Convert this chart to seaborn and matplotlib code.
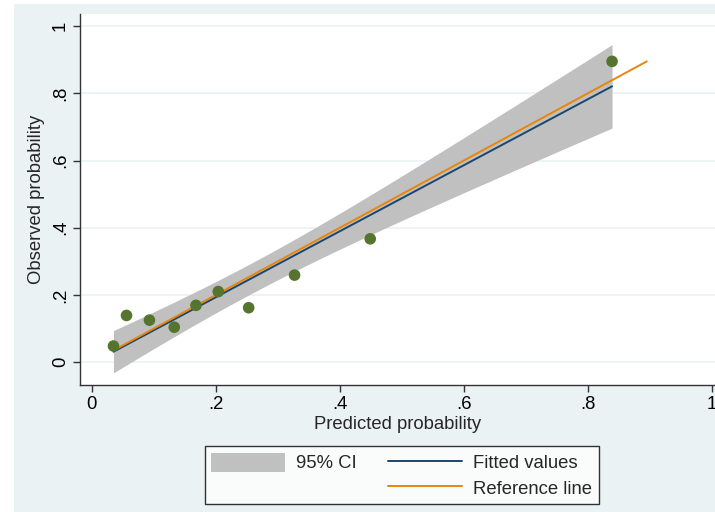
import numpy as np
import pandas as pd
import seaborn as sns
import matplotlib.pyplot as plt
from matplotlib.patches import Rectangle, Patch
from matplotlib.lines import Line2D

# Calibration data
predicted = [0.035, 0.056, 0.093, 0.133, 0.168, 0.204, 0.253, 0.327, 0.449, 0.839]
observed = [0.048, 0.139, 0.125, 0.104, 0.169, 0.210, 0.162, 0.259, 0.367, 0.895]
tick_vals = [0, 0.2, 0.4, 0.6, 0.8, 1.0]
tick_labels = ['0', '.2', '.4', '.6', '.8', '1']

df = pd.DataFrame({'pred': predicted, 'obs': observed})

# Linear fit with analytic 95% CI (like Stata lfitci)
x = df['pred'].values
y = df['obs'].values
n = len(x)
slope, intercept = np.polyfit(x, y, 1)
resid = y - (intercept + slope * x)
s = np.sqrt(np.sum(resid ** 2) / (n - 2))
sxx = np.sum((x - x.mean()) ** 2)
t_crit = 2.306  # t(0.975, df=8)
grid = np.linspace(x.min(), x.max(), 100)
fit = intercept + slope * grid
half = t_crit * s * np.sqrt(1 / n + (grid - x.mean()) ** 2 / sxx)
fit_df = pd.DataFrame({'x': grid, 'fit': fit})
ref_df = pd.DataFrame({'x': [x.min(), y.max()], 'y': [x.min(), y.max()]})

sns.set_style('white')
plt.rcParams['font.family'] = ['Liberation Sans', 'DejaVu Sans']
fs = 13.3

fig = plt.figure(figsize=(7.15, 5.12), dpi=100, facecolor='white')
bg = '#EAF2F3'
fig.patches.append(Rectangle((14 / 715, 0), 1 - 14 / 715, 1 - 4 / 512,
                             transform=fig.transFigure, facecolor=bg,
                             edgecolor='none', zorder=-10))
ax = fig.add_axes([80 / 715, 1 - 385 / 512, 1 - 80 / 715, (385 - 14) / 512])
ax.set_facecolor('white')

ax.fill_between(grid, fit - half, fit + half, color='#C0C0C0', lw=0, zorder=1)
sns.lineplot(data=fit_df, x='x', y='fit', color='#1A476F', lw=1.4, ax=ax, zorder=2)
sns.lineplot(data=ref_df, x='x', y='y', color='#E8850C', lw=1.4, ax=ax, zorder=3)
sns.scatterplot(data=df, x='pred', y='obs', color='#55752F', s=70,
                edgecolor='none', ax=ax, zorder=4)

ax.set_xlim(-0.019, 1.005)
ax.set_ylim(-0.068, 1.036)
ax.set_xticks(tick_vals)
ax.set_xticklabels(tick_labels, fontsize=fs)
ax.set_yticks(tick_vals)
ax.set_yticklabels(tick_labels, fontsize=fs, rotation=90, va='center')
ax.tick_params(axis='both', direction='out', length=5, width=1, color='#333333',
               labelcolor='black', pad=3, bottom=True, left=True)
for yv in tick_vals:
    ax.axhline(yv, color=bg, lw=1.2, zorder=0)
for side in ['top', 'right']:
    ax.spines[side].set_visible(False)
for side in ['left', 'bottom']:
    ax.spines[side].set_color('#333333')
    ax.spines[side].set_linewidth(1)
ax.set_xlabel('Predicted probability', fontsize=fs, labelpad=2)
ax.set_ylabel('Observed probability', fontsize=fs, labelpad=5)

handles = [Patch(facecolor='#C0C0C0', edgecolor='none'),
           Line2D([], [], color='none'),
           Line2D([], [], color='#1A476F', lw=1.4),
           Line2D([], [], color='#E8850C', lw=1.4)]
labels = ['95% CI', '', 'Fitted values', 'Reference line']
leg = fig.legend(handles, labels, ncol=2, loc='center',
                 bbox_to_anchor=(0.562, 0.072), fontsize=fs, frameon=True,
                 fancybox=False, edgecolor='black', facecolor='white',
                 handlelength=4.0, handleheight=1.2, handletextpad=0.6,
                 columnspacing=1.7, labelspacing=0.3, borderpad=0.35,
                 borderaxespad=0)
leg.get_frame().set_linewidth(1)

fig.savefig('out.png', dpi=100, facecolor='white')
